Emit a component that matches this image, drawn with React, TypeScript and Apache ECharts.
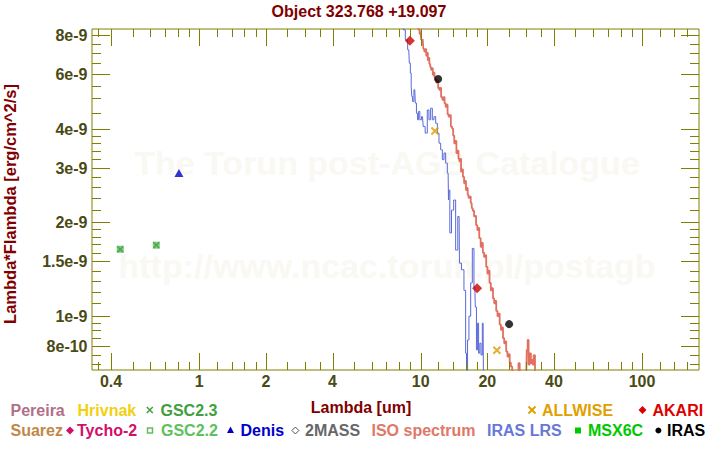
import React, { useEffect, useRef } from 'react';
import * as echarts from 'echarts';

// ---- axis ranges ----
const X_MIN = 0.328;
const X_MAX = 180.8;
const Y_MIN = 6.72e-10;
const Y_MAX = 8.35e-9;

// ---- ticks ----
const xMajorTicks = [0.4, 1, 2, 4, 10, 20, 40, 100];
const xTickLabels = ['0.4', '1', '2', '4', '10', '20', '40', '100'];
const xMinorTicks = [0.35, 0.5, 0.6, 0.7, 0.8, 0.9, 1.2, 1.4, 1.6, 1.8, 2.5, 3, 3.5, 5, 6, 7, 8, 9, 12, 14, 16, 18, 25, 30, 35, 50, 60, 70, 80, 90, 120, 140, 160];
const yMajorTicks = [8e-10, 1e-9, 1.5e-9, 2e-9, 3e-9, 4e-9, 6e-9, 8e-9];
const yTickLabels = ['8e-10', '1e-9', '1.5e-9', '2e-9', '3e-9', '4e-9', '6e-9', '8e-9'];
const yMinorTicks = [7e-10, 7.5e-10, 8.5e-10, 9e-10, 9.5e-10, 1.1e-9, 1.2e-9, 1.3e-9, 1.4e-9, 1.6e-9, 1.7e-9, 1.8e-9, 1.9e-9, 2.2e-9, 2.4e-9, 2.6e-9, 2.8e-9, 3.2e-9, 3.4e-9, 3.6e-9, 3.8e-9, 4.5e-9, 5e-9, 5.5e-9, 6.5e-9, 7e-9, 7.5e-9];

// ---- photometry [lambda um, flux erg/cm^2/s] ----
const gsc22 = [[0.44, 1.64e-9], [0.64, 1.69e-9]];
const gsc23 = [[0.44, 1.64e-9], [0.64, 1.69e-9]];
const denis = [[0.81, 2.88e-9]];
const akari = [[8.94, 7.65e-9], [18.0, 1.23e-9]];
const iras = [[12.0, 5.77e-9], [25.1, 9.43e-10]];
const allwise = [[11.6, 3.93e-9], [22.1, 7.78e-10]];

// ---- spectra [lambda um, flux in 1e-9 erg/cm^2/s] ----
const isoSpectrum = [
  [9.60, 9.20], [9.75, 8.70], [9.85, 8.30], [9.95, 8.05], [10.02, 8.20], [10.09, 7.71], [10.18, 7.55], [10.25, 7.75],
  [10.33, 7.20], [10.45, 7.07], [10.55, 7.20], [10.65, 6.85], [10.75, 7.00], [10.81, 6.60], [10.90, 6.75], [11.00, 6.45],
  [11.10, 6.30], [11.20, 6.18], [11.30, 6.25], [11.40, 5.95], [11.50, 6.05], [11.59, 5.85], [11.70, 5.75], [11.87, 5.62],
  [11.95, 5.70], [12.05, 5.40], [12.21, 5.33], [12.30, 5.40], [12.45, 5.05], [12.64, 4.95], [12.75, 5.05], [12.90, 4.82],
  [13.05, 4.70], [13.17, 4.77], [13.30, 4.45], [13.45, 4.37], [13.60, 4.42], [13.79, 4.06], [13.95, 4.00], [14.10, 3.80],
  [14.27, 3.59], [14.40, 3.65], [14.62, 3.34], [14.75, 3.40], [14.90, 3.20], [15.03, 3.14], [15.15, 3.20], [15.30, 2.91],
  [15.45, 2.96], [15.60, 2.80], [15.83, 2.67], [15.95, 2.72], [16.10, 2.54], [16.25, 2.58], [16.38, 2.45], [16.55, 2.40],
  [16.70, 2.42], [16.98, 2.31], [17.10, 2.22], [17.30, 2.18], [17.57, 2.09], [17.70, 2.10], [17.90, 1.96], [18.18, 1.89],
  [18.30, 1.92], [18.50, 1.78], [18.84, 1.67], [19.00, 1.72], [19.20, 1.60], [19.49, 1.55], [19.65, 1.57], [19.90, 1.44],
  [20.17, 1.37], [20.35, 1.40], [20.60, 1.28], [20.90, 1.21], [21.10, 1.23], [21.35, 1.14], [21.63, 1.10], [21.80, 1.12],
  [22.10, 1.04], [22.38, 1.00], [22.60, 1.02], [22.90, 0.94], [23.19, 0.904], [23.40, 0.92], [23.70, 0.85], [23.99, 0.819],
  [24.20, 0.83], [24.50, 0.77], [24.83, 0.742], [25.10, 0.755], [25.40, 0.71], [25.72, 0.689], [26.10, 0.665], [26.60, 0.65],
  [27.10, 0.66], [27.50, 0.64], [27.84, 0.707], [28.20, 0.64], [28.80, 0.62], [29.54, 0.655], [30.00, 0.66], [30.30, 0.78],
  [30.57, 0.839], [30.90, 0.70], [31.30, 0.76], [31.67, 0.707], [32.00, 0.724], [32.20, 0.70], [32.60, 0.75], [33.10, 0.66],
  [34.00, 0.62],
];
const irasLrs = [
  [8.30, 8.90], [8.42, 8.30], [8.64, 7.71], [8.84, 7.16], [8.94, 6.49], [9.03, 6.03], [9.10, 5.46], [9.15, 5.07],
  [9.25, 4.89], [9.41, 5.33], [9.51, 4.83], [9.64, 4.48], [9.74, 4.27], [9.85, 4.54], [9.99, 4.27], [10.20, 4.37],
  [10.34, 4.06], [10.63, 3.87], [10.81, 4.59], [11.00, 4.27], [11.20, 4.65], [11.39, 4.27], [11.59, 4.37], [11.80, 4.16],
  [12.00, 3.87], [12.21, 3.59], [12.43, 3.42], [12.64, 3.18], [12.86, 3.34], [13.09, 3.10], [13.31, 2.88], [13.41, 2.36],
  [13.45, 2.54], [13.65, 1.85], [13.93, 2.19], [14.27, 2.36], [14.52, 1.63], [14.92, 2.09], [15.03, 1.48], [15.56, 1.41],
  [15.83, 1.21], [16.11, 0.761], [16.21, 0.60], [16.38, 0.839], [16.68, 1.00], [16.98, 1.28], [17.26, 1.65], [17.57, 1.24],
  [17.75, 1.07], [17.99, 0.78], [18.18, 0.95], [18.37, 0.761], [18.64, 0.819], [18.84, 0.751], [19.15, 0.95], [19.29, 0.60],
  [19.60, 0.50],
];

const FONT = '"Liberation Sans", Arial, sans-serif';
const AXIS_COLOR = '#808000';
const LABEL_COLOR = '#4a4a14';
const TITLE_COLOR = '#800000';

function txt(text: string, x: number, y: number, fill: string, align = 'left', size = 16) {
  return {
    type: 'text', x, y, silent: true,
    style: { text, fill, fontSize: size, fontWeight: 'bold', fontFamily: FONT, align, verticalAlign: 'middle' },
  };
}

function cross(cx: number, cy: number, h: number, stroke: string, lw: number) {
  return {
    type: 'group', silent: true,
    children: [
      { type: 'line', shape: { x1: cx - h, y1: cy - h, x2: cx + h, y2: cy + h }, style: { stroke, lineWidth: lw } },
      { type: 'line', shape: { x1: cx - h, y1: cy + h, x2: cx + h, y2: cy - h }, style: { stroke, lineWidth: lw } },
    ],
  };
}

function diamondPts(cx: number, cy: number, h: number) {
  return [[cx, cy - h], [cx + h, cy], [cx, cy + h], [cx - h, cy]];
}

function xTickSeries(ticks: number[], len: number) {
  return {
    type: 'custom', silent: true, clip: false, z: 5,
    data: ticks.map((v) => [v, Y_MIN]),
    encode: { x: 0, y: 1 },
    renderItem: (params: any, api: any) => {
      const v = api.value(0);
      const b = api.coord([v, Y_MIN]);
      const t = api.coord([v, Y_MAX]);
      const x = Math.round(b[0]) + 0.5;
      const style = { stroke: AXIS_COLOR, lineWidth: 1 };
      return {
        type: 'group',
        children: [
          { type: 'line', shape: { x1: x, y1: b[1], x2: x, y2: b[1] - len }, style },
          { type: 'line', shape: { x1: x, y1: t[1], x2: x, y2: t[1] + len }, style },
        ],
      };
    },
  };
}

function yTickSeries(ticks: number[], len: number) {
  return {
    type: 'custom', silent: true, clip: false, z: 5,
    data: ticks.map((v) => [X_MIN, v]),
    encode: { x: 0, y: 1 },
    renderItem: (params: any, api: any) => {
      const v = api.value(1);
      const l = api.coord([X_MIN, v]);
      const r = api.coord([X_MAX, v]);
      const y = Math.round(l[1]) + 0.5;
      const style = { stroke: AXIS_COLOR, lineWidth: 1 };
      return {
        type: 'group',
        children: [
          { type: 'line', shape: { x1: l[0], y1: y, x2: l[0] + len, y2: y }, style },
          { type: 'line', shape: { x1: r[0], y1: y, x2: r[0] - len, y2: y }, style },
        ],
      };
    },
  };
}

export default function App() {
  const ref = useRef<HTMLDivElement>(null);

  useEffect(() => {
    if (!ref.current) return;
    const chart = echarts.init(ref.current, undefined, { renderer: 'svg' });

    const crossPath = 'path://M0,0L10,10M10,0L0,10';

    const option: any = {
      animation: false,
      backgroundColor: '#ffffff',
      grid: { left: 92, top: 29, right: 21, bottom: 80, show: true, borderColor: AXIS_COLOR, borderWidth: 1, backgroundColor: 'transparent' },
      xAxis: {
        type: 'log', logBase: 10, min: X_MIN, max: X_MAX,
        axisLine: { show: false }, axisTick: { show: false }, axisLabel: { show: false }, splitLine: { show: false },
      },
      yAxis: {
        type: 'log', logBase: 10, min: Y_MIN, max: Y_MAX,
        axisLine: { show: false }, axisTick: { show: false }, axisLabel: { show: false }, splitLine: { show: false },
      },
      graphic: [
        // watermark
        { ...txt('The Torun post-AGB Catalogue', 387, 163, '#faf8f3', 'center', 34), z: -10 },
        { ...txt('http://www.ncac.torun.pl/postagb', 387, 266, '#faf8f3', 'center', 34), z: -10 },
        // title
        txt('Object 323.768 +19.097', 359, 11, TITLE_COLOR, 'center', 16),
        // axis names
        txt('Lambda [um]', 361, 407, TITLE_COLOR, 'center', 16),
        {
          type: 'text', x: 10, y: 204, rotation: Math.PI / 2, silent: true,
          style: { text: 'Lambda*Flambda [erg/cm^2/s]', fill: TITLE_COLOR, fontSize: 16.5, fontWeight: 'bold', fontFamily: FONT, align: 'center', verticalAlign: 'middle' },
        },
        // legend row 1
        txt('Pereira', 10.5, 410, '#b07088'),
        txt('Hrivnak', 77.5, 410, '#f0d010'),
        cross(149.8, 410, 3, '#40a040', 1.5),
        txt('GSC2.3', 160.5, 410, '#40a040'),
        cross(532, 410, 3.5, '#e0a000', 2),
        txt('ALLWISE', 542, 410, '#e0a000'),
        { type: 'polygon', silent: true, shape: { points: diamondPts(642.5, 410, 4) }, style: { fill: '#dd0000' } },
        txt('AKARI', 652.5, 410, '#dd0000'),
        // legend row 2
        txt('Suarez', 10.5, 430.5, '#c08848'),
        { type: 'polygon', silent: true, shape: { points: diamondPts(70, 430.5, 4) }, style: { fill: '#d0106a' } },
        txt('Tycho-2', 77, 430.5, '#d0106a'),
        { type: 'rect', silent: true, shape: { x: 147.5, y: 428, width: 5, height: 5 }, style: { fill: 'none', stroke: '#60c060', lineWidth: 1.5 } },
        txt('GSC2.2', 161, 430.5, '#60c060'),
        { type: 'polygon', silent: true, shape: { points: [[230.5, 426.5], [234, 433], [227, 433]] }, style: { fill: '#0000c8' } },
        txt('Denis', 240.5, 430.5, '#0000c8'),
        { type: 'polygon', silent: true, shape: { points: diamondPts(295.4, 430.5, 3.5) }, style: { fill: 'none', stroke: '#505050', lineWidth: 1 } },
        txt('2MASS', 305, 430.5, '#686868'),
        txt('ISO spectrum', 371.5, 430.5, '#e07868'),
        txt('IRAS LRS', 487, 430.5, '#6878d8'),
        { type: 'rect', silent: true, shape: { x: 575, y: 427.5, width: 6, height: 6 }, style: { fill: '#00c800' } },
        txt('MSX6C', 588, 430.5, '#00c800'),
        { type: 'circle', silent: true, shape: { cx: 658.4, cy: 430.5, r: 3 }, style: { fill: '#000000' } },
        txt('IRAS', 667, 430.5, '#000000'),
      ],
      series: [
        xTickSeries(xMajorTicks, 17),
        xTickSeries(xMinorTicks, 8),
        yTickSeries(yMajorTicks, 18),
        yTickSeries(yMinorTicks, 9),
        {
          type: 'custom', silent: true, clip: false, z: 5,
          data: xMajorTicks.map((v) => [v, Y_MIN]),
          encode: { x: 0, y: 1 },
          renderItem: (params: any, api: any) => {
            const p = api.coord([api.value(0), Y_MIN]);
            return {
              type: 'text', x: p[0], y: p[1] + 11,
              style: { text: xTickLabels[params.dataIndex], fill: LABEL_COLOR, fontSize: 16, fontWeight: 'bold', fontFamily: FONT, align: 'center', verticalAlign: 'middle' },
            };
          },
        },
        {
          type: 'custom', silent: true, clip: false, z: 5,
          data: yMajorTicks.map((v) => [X_MIN, v]),
          encode: { x: 0, y: 1 },
          renderItem: (params: any, api: any) => {
            const p = api.coord([X_MIN, api.value(1)]);
            return {
              type: 'text', x: p[0] - 4.5, y: p[1] + 0.5,
              style: { text: yTickLabels[params.dataIndex], fill: LABEL_COLOR, fontSize: 16, fontWeight: 'bold', fontFamily: FONT, align: 'right', verticalAlign: 'middle' },
            };
          },
        },
        {
          name: 'ISO spectrum', type: 'line', symbol: 'none', clip: true, z: 3, step: 'middle',
          data: isoSpectrum.map(([l, f]) => [l, f * 1e-9]),
          lineStyle: { color: '#e07060', width: 1.8 },
        },
        {
          name: 'IRAS LRS', type: 'line', symbol: 'none', clip: true, z: 3, step: 'middle',
          data: irasLrs.map(([l, f]) => [l, f * 1e-9]),
          lineStyle: { color: '#5868d8', width: 1 },
        },
        {
          name: 'GSC2.2', type: 'scatter', symbol: 'rect', symbolSize: 7, z: 6,
          data: gsc22, itemStyle: { color: '#5cbc5c' },
        },
        {
          name: 'GSC2.3', type: 'scatter', symbol: crossPath, symbolSize: 6, z: 7,
          data: gsc23, itemStyle: { color: 'rgba(0,0,0,0)', borderColor: '#3a9a3a', borderWidth: 1.2 },
        },
        {
          name: 'Denis', type: 'scatter', symbol: 'triangle', symbolSize: [9, 8], z: 6,
          data: denis, itemStyle: { color: '#0000c0' },
        },
        {
          name: 'AKARI', type: 'scatter', symbol: 'diamond', symbolSize: [10, 10], z: 6,
          data: akari, itemStyle: { color: '#cc0000' },
        },
        {
          name: 'IRAS', type: 'scatter', symbol: 'circle', symbolSize: 8, z: 6,
          data: iras, itemStyle: { color: '#000000' },
        },
        {
          name: 'ALLWISE', type: 'scatter', symbol: crossPath, symbolSize: 7, z: 6,
          data: allwise, itemStyle: { color: 'rgba(0,0,0,0)', borderColor: '#e09800', borderWidth: 2 },
        },
      ],
    };

    chart.setOption(option);
    return () => chart.dispose();
  }, []);

  return <div ref={ref} style={{ position: 'absolute', left: 0, top: 0, width: 720, height: 450 }} />;
}
